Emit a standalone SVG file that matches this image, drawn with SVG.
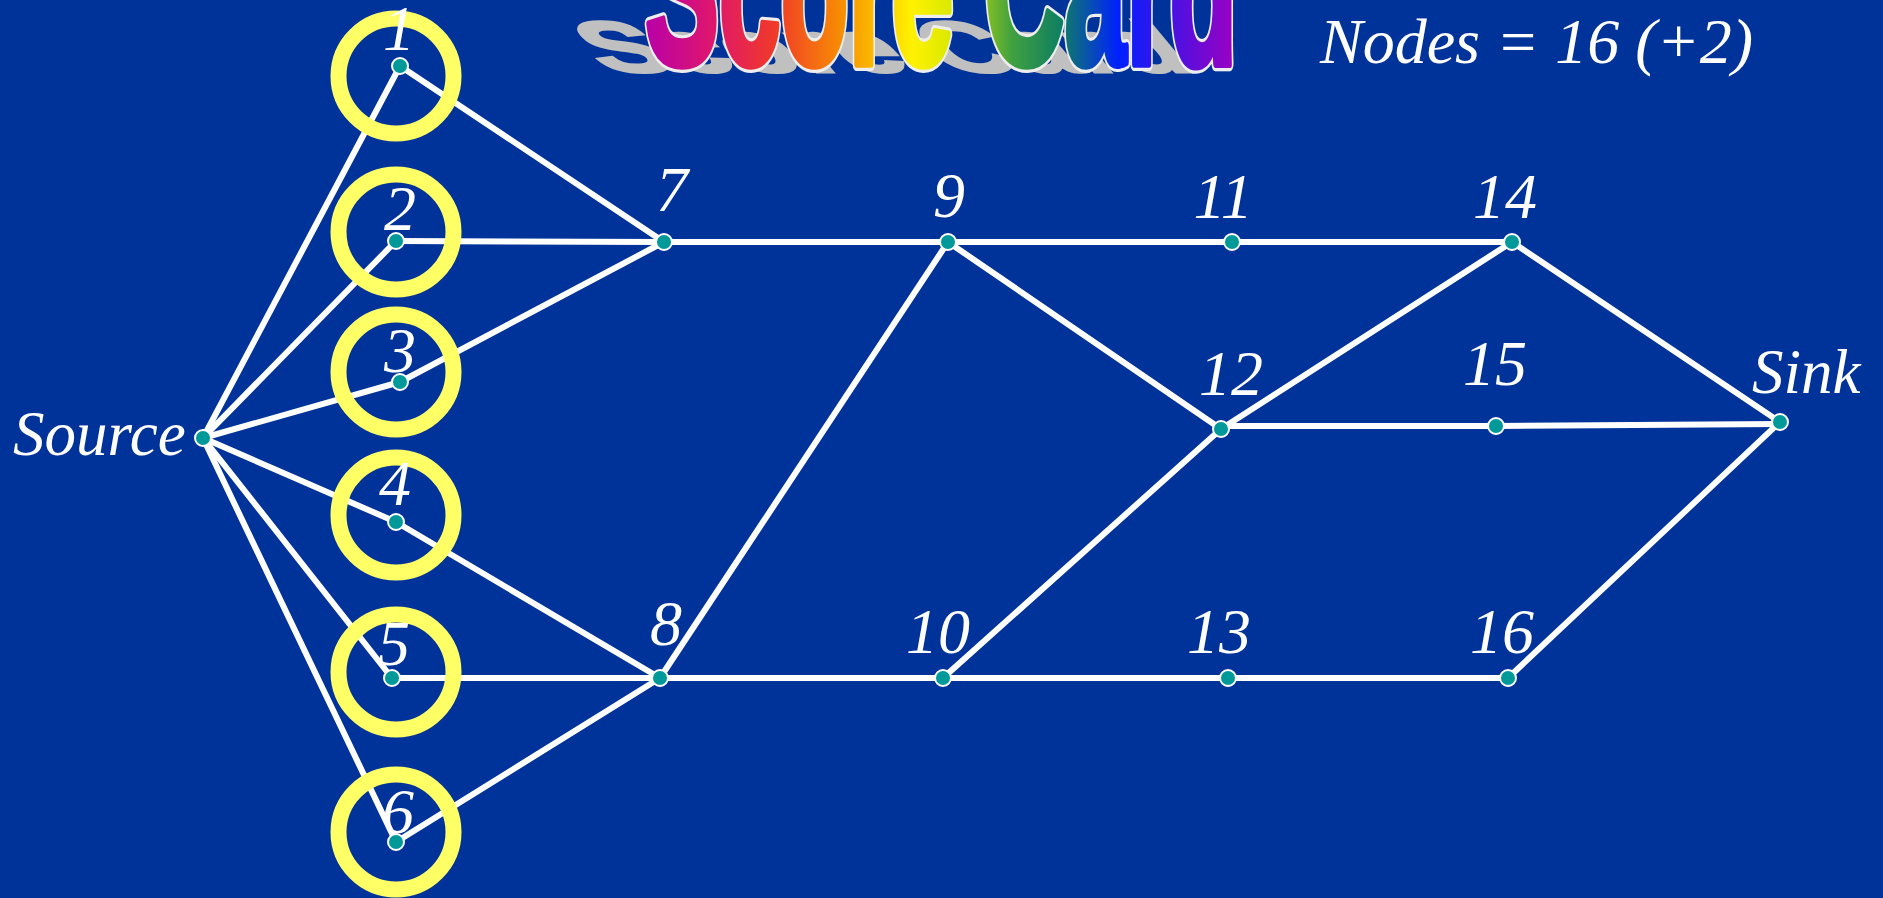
<svg xmlns="http://www.w3.org/2000/svg" width="1883" height="898" viewBox="0 0 1883 898">
<defs>
<linearGradient id="rainbow" x1="0" y1="0" x2="1" y2="0">
<stop offset="0" stop-color="#B800A8"/>
<stop offset="0.12" stop-color="#E0186A"/>
<stop offset="0.22" stop-color="#F03A28"/>
<stop offset="0.34" stop-color="#F89400"/>
<stop offset="0.45" stop-color="#FFF200"/>
<stop offset="0.52" stop-color="#D8E800"/>
<stop offset="0.62" stop-color="#40A040"/>
<stop offset="0.70" stop-color="#108060"/>
<stop offset="0.80" stop-color="#0020FF"/>
<stop offset="0.90" stop-color="#5010E0"/>
<stop offset="1" stop-color="#A000C0"/>
</linearGradient>
<style>
.edge{stroke:#FFFFFF;stroke-width:6;stroke-linecap:round;fill:none}
.ring{fill:none;stroke:#FFFF66;stroke-width:16}
.dot{fill:#009999;stroke:#FFFFFF;stroke-width:2}
.lbl{fill:#FFFFFF;font-family:"Liberation Serif","Times New Roman",serif;font-style:italic;font-size:64px;text-anchor:middle}
.lbls{fill:#FFFFFF;font-family:"Liberation Serif","Times New Roman",serif;font-style:italic;font-size:63px}
.wa{font-family:"Liberation Sans",Arial,sans-serif;font-weight:bold;font-size:100px}
</style>
</defs>
<rect x="0" y="0" width="1883" height="898" fill="#003399"/>

<g id="title">
<text class="wa" transform="matrix(1.11,0,0.6,0.72,606,72)" x="0" y="0" fill="#C0C0C0" stroke="#C0C0C0" stroke-width="4" vector-effect="non-scaling-stroke">Score Card</text>
<text class="wa" transform="matrix(1.11,0,0,2.2,645,64)" x="0" y="0" fill="none" stroke="#EEEEEE" stroke-width="11" stroke-linejoin="round" vector-effect="non-scaling-stroke">Score Card</text>
<text class="wa" transform="matrix(1.11,0,0,2.2,645,64)" x="0" y="0" fill="url(#rainbow)" stroke="url(#rainbow)" stroke-width="6" stroke-linejoin="round" vector-effect="non-scaling-stroke">Score Card</text>
</g>

<text id="nodecount" class="lbls" x="1320" y="63" style="font-size:64px">Nodes = 16 (+2)</text>

<g id="connectors">
<line class="edge" x1="203" y1="438" x2="400" y2="66"/>
<line class="edge" x1="203" y1="438" x2="396" y2="241"/>
<line class="edge" x1="203" y1="438" x2="400" y2="382"/>
<line class="edge" x1="203" y1="438" x2="396" y2="522"/>
<line class="edge" x1="203" y1="438" x2="392" y2="678"/>
<line class="edge" x1="203" y1="438" x2="396" y2="842"/>
<line class="edge" x1="400" y1="66" x2="664" y2="242"/>
<line class="edge" x1="396" y1="241" x2="664" y2="242"/>
<line class="edge" x1="400" y1="382" x2="664" y2="242"/>
<line class="edge" x1="396" y1="522" x2="660" y2="678"/>
<line class="edge" x1="392" y1="678" x2="660" y2="678"/>
<line class="edge" x1="396" y1="842" x2="660" y2="678"/>
<line class="edge" x1="664" y1="242" x2="948" y2="242"/>
<line class="edge" x1="660" y1="678" x2="948" y2="242"/>
<line class="edge" x1="660" y1="678" x2="943" y2="678"/>
<line class="edge" x1="948" y1="242" x2="1232" y2="242"/>
<line class="edge" x1="1232" y1="242" x2="1512" y2="242"/>
<line class="edge" x1="948" y1="242" x2="1221" y2="429"/>
<line class="edge" x1="943" y1="678" x2="1221" y2="429"/>
<line class="edge" x1="943" y1="678" x2="1228" y2="678"/>
<line class="edge" x1="1228" y1="678" x2="1508" y2="678"/>
<line class="edge" x1="1221" y1="429" x2="1512" y2="242"/>
<line class="edge" x1="1221" y1="426" x2="1496" y2="426"/>
<line class="edge" x1="1496" y1="426" x2="1780" y2="424"/>
<line class="edge" x1="1512" y1="242" x2="1780" y2="422"/>
<line class="edge" x1="1508" y1="678" x2="1780" y2="422"/>
</g>

<g id="node-source"><circle class="dot" cx="203" cy="438" r="8"/><text class="lbls" x="13" y="455">Source</text></g>
<g id="node-1"><circle class="ring" cx="396" cy="76" r="57.5"/><circle class="dot" cx="400" cy="66" r="8"/><text class="lbl" x="399" y="50">1</text></g>
<g id="node-2"><circle class="ring" cx="396" cy="232" r="57.5"/><circle class="dot" cx="396" cy="241" r="8"/><text class="lbl" x="400" y="230">2</text></g>
<g id="node-3"><circle class="ring" cx="396" cy="372" r="57.5"/><circle class="dot" cx="400" cy="382" r="8"/><text class="lbl" x="400" y="372">3</text></g>
<g id="node-4"><circle class="ring" cx="396" cy="515" r="57.5"/><circle class="dot" cx="396" cy="522" r="8"/><text class="lbl" x="395" y="505">4</text></g>
<g id="node-5"><circle class="ring" cx="396" cy="672" r="57.5"/><circle class="dot" cx="392" cy="678" r="8"/><text class="lbl" x="394" y="665">5</text></g>
<g id="node-6"><circle class="ring" cx="396" cy="832" r="57.5"/><circle class="dot" cx="396" cy="842" r="8"/><text class="lbl" x="398" y="833">6</text></g>
<g id="node-7"><circle class="dot" cx="664" cy="242" r="8"/><text class="lbl" x="672" y="211">7</text></g>
<g id="node-8"><circle class="dot" cx="660" cy="678" r="8"/><text class="lbl" x="666" y="645">8</text></g>
<g id="node-9"><circle class="dot" cx="948" cy="242" r="8"/><text class="lbl" x="949" y="217">9</text></g>
<g id="node-10"><circle class="dot" cx="943" cy="678" r="8"/><text class="lbl" x="938" y="653">10</text></g>
<g id="node-11"><circle class="dot" cx="1232" cy="242" r="8"/><text class="lbl" x="1223" y="218">11</text></g>
<g id="node-12"><circle class="dot" cx="1221" cy="429" r="8"/><text class="lbl" x="1231" y="395">12</text></g>
<g id="node-13"><circle class="dot" cx="1228" cy="678" r="8"/><text class="lbl" x="1219" y="653">13</text></g>
<g id="node-14"><circle class="dot" cx="1512" cy="242" r="8"/><text class="lbl" x="1505" y="218">14</text></g>
<g id="node-15"><circle class="dot" cx="1496" cy="426" r="8"/><text class="lbl" x="1495" y="385">15</text></g>
<g id="node-16"><circle class="dot" cx="1508" cy="678" r="8"/><text class="lbl" x="1502" y="653">16</text></g>
<g id="node-sink"><circle class="dot" cx="1780" cy="422" r="8"/><text class="lbls" x="1752" y="393">Sink</text></g>
</svg>
